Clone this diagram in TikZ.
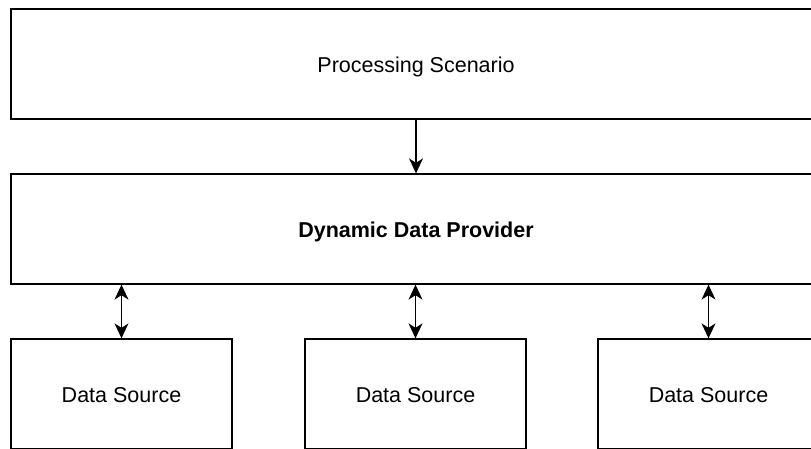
\documentclass[tikz,border=0pt]{standalone}
\usepackage{fontspec}
\setmainfont{Liberation Sans}
\usetikzlibrary{arrows.meta}
\begin{document}
\begin{tikzpicture}[x=1pt, y=-1pt,
  box/.style={draw=black, line width=1.3pt, fill=white, inner sep=0pt,
    text height=16pt, text depth=0pt,
    minimum height=110pt, font=\fontsize{21.5}{26}\selectfont},
  widebox/.style={box, minimum width=810pt},
  srcbox/.style={box, minimum width=221pt},
  link/.style={line width=1.3pt, draw=black, -{Stealth[length=15pt, width=14pt, inset=4.5pt]}},
  duplex/.style={line width=1.3pt, draw=black,
    {Stealth[length=15pt, width=14pt, inset=4.5pt]}-{Stealth[length=15pt, width=14pt, inset=4.5pt]}}]
  \useasboundingbox (0,0) rectangle (811,448);
  \clip (0,0) rectangle (811,448);

  % layers
  \node[widebox] (scenario) at (416,64) {Processing Scenario};
  \node[widebox] (provider) at (416,229) {\bfseries Dynamic Data Provider};

  % sources
  \node[srcbox] (srcA) at (121.5,394) {Data Source};
  \node[srcbox] (srcB) at (415.5,394) {Data Source};
  \node[srcbox] (srcC) at (708.5,394) {Data Source};

  % connectors
  \draw[link] (scenario.south) -- (provider.north);
  \draw[duplex] (provider.south -| srcA.north) -- (srcA.north);
  \draw[duplex] (provider.south -| srcB.north) -- (srcB.north);
  \draw[duplex] (provider.south -| srcC.north) -- (srcC.north);
\end{tikzpicture}
\end{document}
